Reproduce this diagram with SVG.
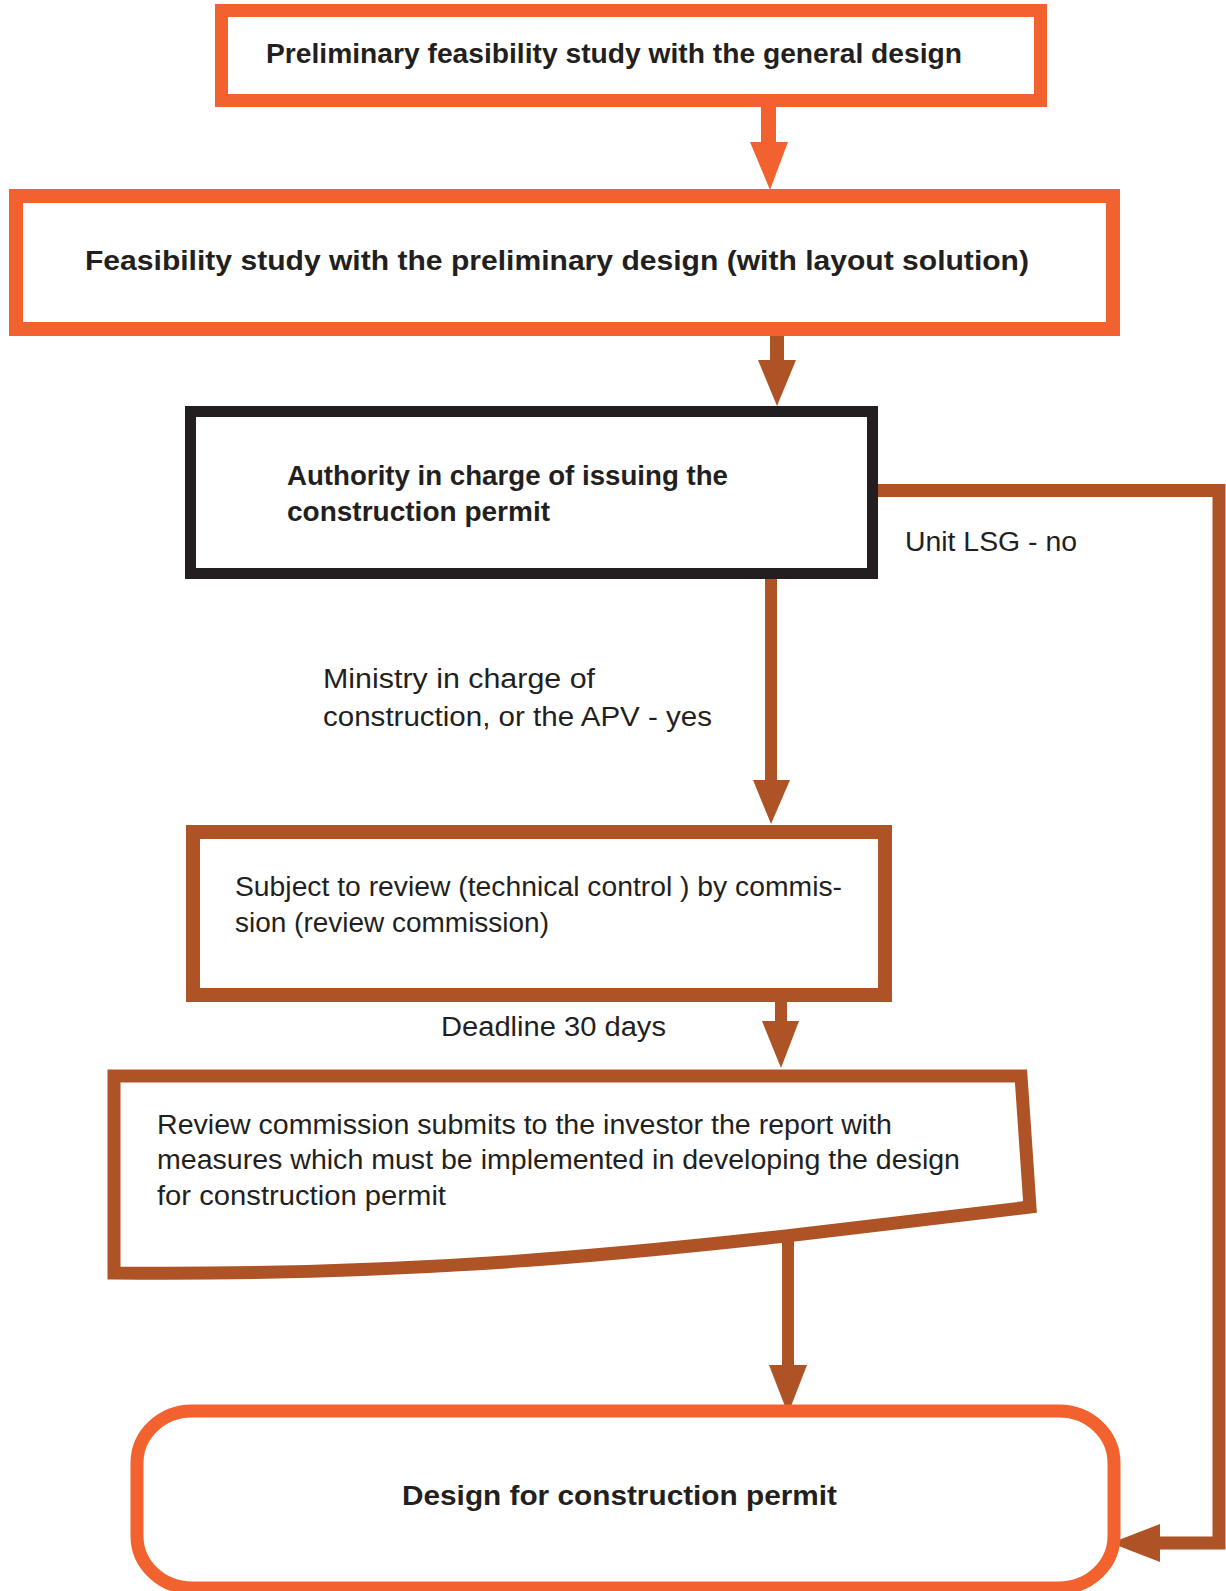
<svg xmlns="http://www.w3.org/2000/svg" width="1226" height="1591" viewBox="0 0 1226 1591">
<style>
  .bg{fill:#ffffff}
  .orange{fill:#ffffff;stroke:#F2622E;stroke-width:13}
  .brown{fill:#ffffff;stroke:#AE5326;stroke-width:14}
  .black{fill:#ffffff;stroke:#231F20;stroke-width:11}
  .lineO{fill:none;stroke:#F2622E;stroke-width:15}
  .lineB{fill:none;stroke:#AE5326;stroke-width:12}
  .headO{fill:#F2622E}
  .headB{fill:#AE5326}
  text{font-family:"Liberation Sans",Arial,sans-serif;fill:#231F20;font-size:27px}
  .b{font-weight:bold}
</style>
<rect class="bg" x="0" y="0" width="1226" height="1591"/>

<g id="connectors">
  <line class="lineO" x1="768.5" y1="107" x2="768.5" y2="144"/>
  <polygon class="headO" points="750,142 788,142 770,190"/>
  <line class="lineB" x1="777" y1="335" x2="777" y2="362" style="stroke-width:14"/>
  <polygon class="headB" points="758,360 796,360 777,406"/>
  <line class="lineB" x1="771" y1="578" x2="771" y2="782"/>
  <polygon class="headB" points="753,780 790,780 771,824"/>
  <line class="lineB" x1="781" y1="1001" x2="781" y2="1023"/>
  <polygon class="headB" points="762,1021 799,1021 781,1068"/>
  <line class="lineB" x1="788" y1="1236" x2="788" y2="1367"/>
  <polygon class="headB" points="769,1365 807,1365 788,1414"/>
  <polyline class="lineB" points="877,490.5 1219,490.5 1219,1543 1158,1543" style="stroke-width:13"/>
  <polygon class="headB" points="1160,1524 1160,1562 1111,1543"/>
</g>

<g id="node-preliminary">
  <rect class="orange" x="221.5" y="10.5" width="819" height="90"/>
  <text class="b" x="266" y="63" textLength="696" lengthAdjust="spacingAndGlyphs">Preliminary feasibility study with the general design</text>
</g>

<g id="node-feasibility">
  <rect class="orange" x="16" y="196" width="1097" height="133" style="stroke-width:14"/>
  <text class="b" x="85" y="270" textLength="944" lengthAdjust="spacingAndGlyphs">Feasibility study with the preliminary design (with layout solution)</text>
</g>

<g id="node-authority">
  <rect class="black" x="190.5" y="411.5" width="682" height="162"/>
  <text class="b" x="287" y="485" textLength="441" lengthAdjust="spacingAndGlyphs">Authority in charge of issuing the</text>
  <text class="b" x="287" y="521" textLength="263" lengthAdjust="spacingAndGlyphs">construction permit</text>
</g>

<g id="label-unit">
  <text x="905" y="551" textLength="172" lengthAdjust="spacingAndGlyphs">Unit LSG - no</text>
</g>

<g id="label-ministry">
  <text x="323" y="688" textLength="272" lengthAdjust="spacingAndGlyphs">Ministry in charge of</text>
  <text x="323" y="726" textLength="389" lengthAdjust="spacingAndGlyphs">construction, or the APV - yes</text>
</g>

<g id="node-review">
  <rect class="brown" x="193" y="832" width="692" height="163"/>
  <text x="235" y="896" textLength="607" lengthAdjust="spacingAndGlyphs">Subject to review (technical control ) by commis-</text>
  <text x="235" y="932" textLength="314" lengthAdjust="spacingAndGlyphs">sion (review commission)</text>
</g>

<g id="label-deadline">
  <text x="441" y="1036" textLength="225" lengthAdjust="spacingAndGlyphs">Deadline 30 days</text>
</g>

<g id="node-report">
  <path class="brown" style="stroke-width:13" d="M114,1076 L1021,1076 L1030,1207 L786,1236 C640,1252 420,1276 114,1273 Z"/>
  <text x="157" y="1134" textLength="735" lengthAdjust="spacingAndGlyphs">Review commission submits to the investor the report with</text>
  <text x="157" y="1169" textLength="803" lengthAdjust="spacingAndGlyphs">measures which must be implemented in developing the design</text>
  <text x="157" y="1205" textLength="289" lengthAdjust="spacingAndGlyphs">for construction permit</text>
</g>

<g id="node-design">
  <rect class="orange" x="137" y="1411" width="977" height="177" rx="55" ry="52"/>
  <text class="b" x="402" y="1505" textLength="435" lengthAdjust="spacingAndGlyphs">Design for construction permit</text>
</g>
</svg>
